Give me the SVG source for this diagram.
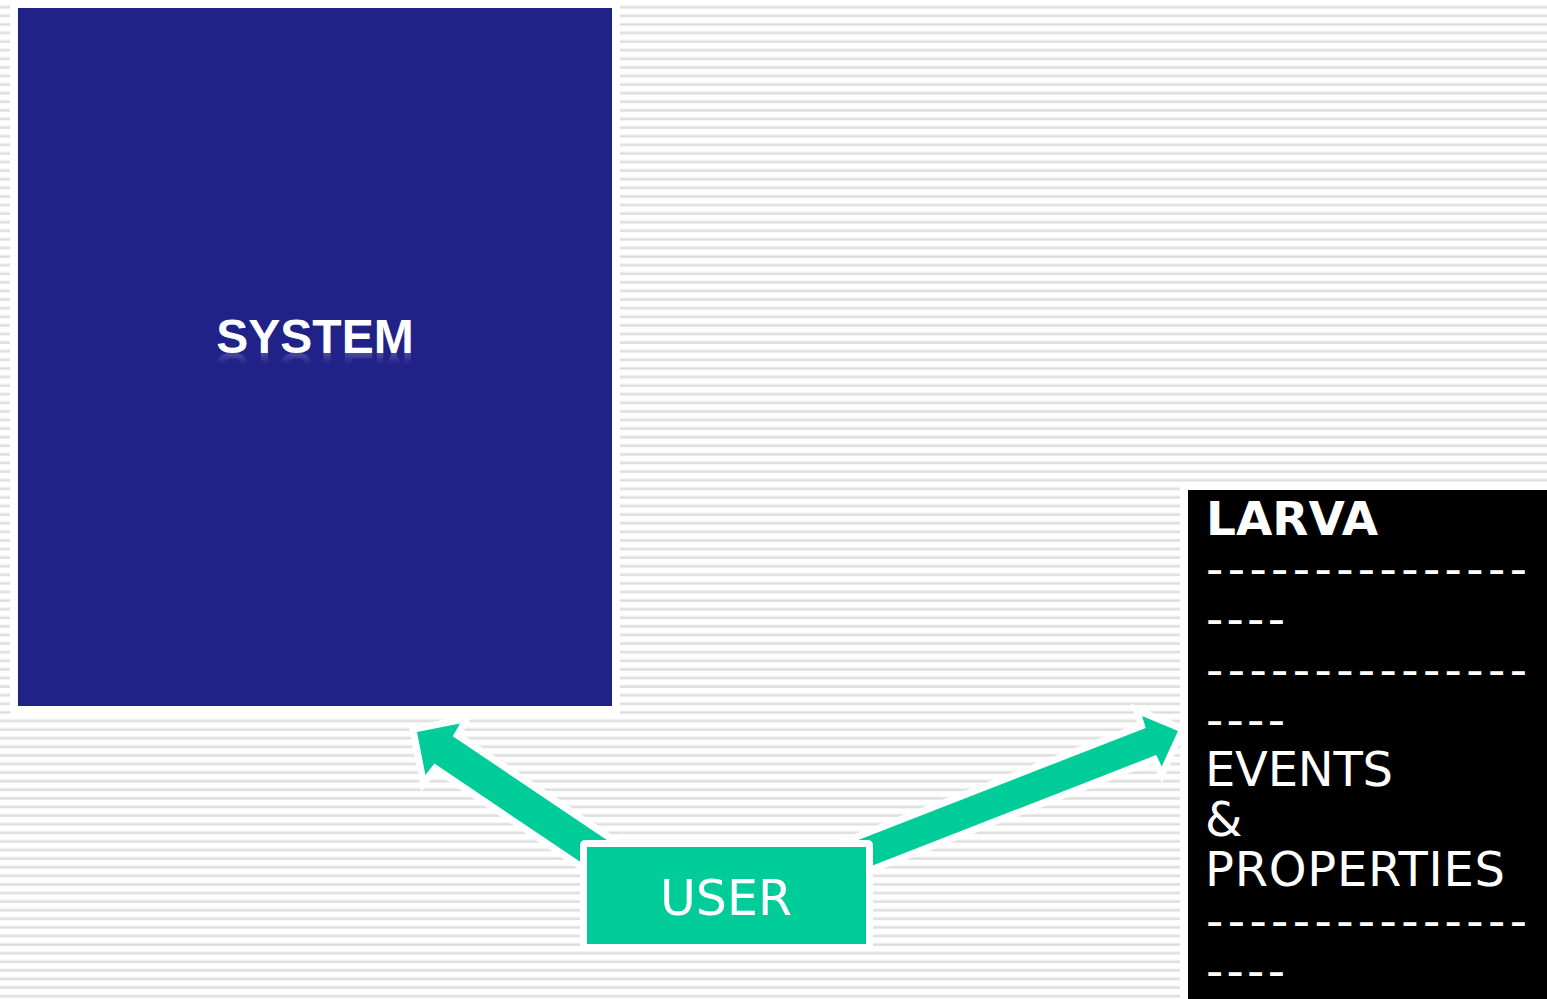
<svg xmlns="http://www.w3.org/2000/svg" width="1547" height="999" viewBox="0 0 1547 999">
  <defs>
    <pattern id="stripes" patternUnits="userSpaceOnUse" width="20" height="8.6">
      <rect x="0" y="0" width="20" height="8.6" fill="#ffffff"/>
      <rect x="0" y="5.4" width="20" height="1" fill="#ececec"/>
      <rect x="0" y="6.4" width="20" height="2" fill="#dcdcdc"/>
    </pattern>
    <linearGradient id="reflect" x1="0" y1="0" x2="0" y2="1">
      <stop offset="0.6" stop-color="#ffffff" stop-opacity="0"/>
      <stop offset="1" stop-color="#ffffff" stop-opacity="0.35"/>
    </linearGradient>
    <style>
      .arrow { fill: #00cc99; stroke: #ffffff; stroke-width: 14; stroke-linejoin: miter; paint-order: stroke; }
      .dash { font-family: "DejaVu Sans", Verdana, sans-serif; font-size: 48px; fill: #ffffff; }
      .body { font-family: "DejaVu Sans", Verdana, sans-serif; font-size: 48px; fill: #ffffff; }
    </style>
  </defs>

  <!-- striped backdrop -->
  <rect x="0" y="0" width="1547" height="999" fill="url(#stripes)"/>

  <!-- connectors: block arrows from USER -->
  <g id="connectors">
    <polygon class="arrow" points="417,732 460,723.6 452.8,736.2 621.3,849.7 602.9,877.1 434.4,763.6 425.4,775"/>
    <polygon class="arrow" points="1178,731 1142.1,716 1145.7,728 818.5,855.4 829.1,882.4 1156.3,755 1161.7,766.4"/>
  </g>

  <!-- SYSTEM node -->
  <g id="system">
    <rect x="10" y="0" width="610" height="714" fill="#ffffff"/>
    <rect x="18" y="8" width="594" height="698" fill="#212288"/>
    <text x="315" y="353" text-anchor="middle" font-family="'Liberation Sans', Arial, sans-serif" font-weight="bold" font-size="48" fill="#ffffff">SYSTEM</text>
    <text x="315" y="353" text-anchor="middle" transform="translate(0,706) scale(1,-1)" font-family="'Liberation Sans', Arial, sans-serif" font-weight="bold" font-size="48" fill="url(#reflect)">SYSTEM</text>
  </g>

  <!-- USER node -->
  <g id="user">
    <rect x="580" y="840" width="293" height="111" rx="5" fill="#ffffff"/>
    <rect x="587" y="847" width="279" height="97" fill="#00cc99"/>
    <text x="726" y="915" text-anchor="middle" font-family="'DejaVu Sans', Verdana, sans-serif" font-size="49" fill="#ffffff">USER</text>
  </g>

  <!-- LARVA node -->
  <g id="larva">
    <rect x="1180" y="482" width="367" height="517" fill="#ffffff"/>
    <rect x="1188" y="490" width="359" height="509" fill="#000000"/>
    <text x="1206" y="535" font-family="'DejaVu Sans', Verdana, sans-serif" font-weight="bold" font-size="47" fill="#ffffff">LARVA</text>
    <text class="dash" x="1206" y="585.2" textLength="321" lengthAdjust="spacing">---------------</text>
    <text class="dash" x="1206" y="635.4" textLength="79" lengthAdjust="spacing">----</text>
    <text class="dash" x="1206" y="685.6" textLength="321" lengthAdjust="spacing">---------------</text>
    <text class="dash" x="1206" y="735.8" textLength="79" lengthAdjust="spacing">----</text>
    <text class="body" x="1205" y="786" textLength="188" lengthAdjust="spacing">EVENTS</text>
    <text class="body" x="1205" y="836.2">&amp;</text>
    <text class="body" x="1205" y="886.4" textLength="300" lengthAdjust="spacing">PROPERTIES</text>
    <text class="dash" x="1206" y="936.6" textLength="321" lengthAdjust="spacing">---------------</text>
    <text class="dash" x="1206" y="986.8" textLength="79" lengthAdjust="spacing">----</text>
  </g>
</svg>
